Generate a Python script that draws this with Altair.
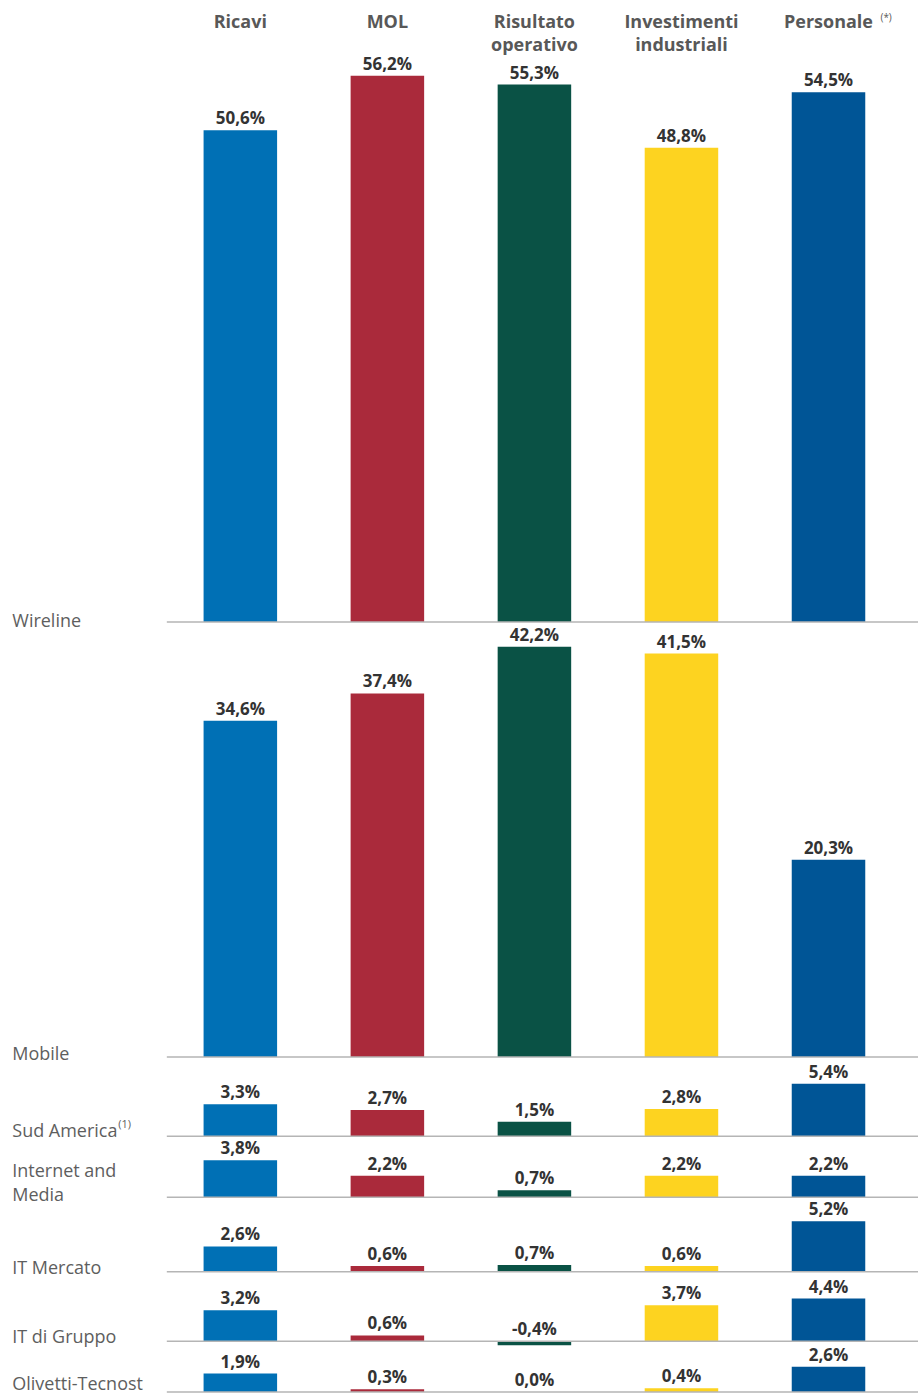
import altair as alt
import pandas as pd

# ---------------- data ----------------
metrics = ["Ricavi", "MOL", "Risultato operativo", "Investimenti industriali", "Personale"]
header_labels = ["Ricavi", "MOL", "Risultato\noperativo", "Investimenti\nindustriali", "Personale"]
colors = ["#0070b5", "#aa2a3b", "#0a5245", "#fdd320", "#005596"]

segments = ["Wireline", "Mobile", "Sud America", "Internet and\nMedia",
            "IT Mercato", "IT di Gruppo", "Olivetti-Tecnost"]

wireline = [50.6, 56.2, 55.3, 48.8, 54.5]
mobile = [34.6, 37.4, 42.2, 41.5, 20.3]
sud_america = [3.3, 2.7, 1.5, 2.8, 5.4]
internet_media = [3.8, 2.2, 0.7, 2.2, 2.2]
it_mercato = [2.6, 0.6, 0.7, 0.6, 5.2]
it_gruppo = [3.2, 0.6, -0.4, 3.7, 4.4]
olivetti = [1.9, 0.3, 0.0, 0.4, 2.6]

series = [wireline, mobile, sud_america, internet_media, it_mercato, it_gruppo, olivetti]

# ---------------- layout ----------------
K = 9.73  # pixels per percentage point
row_domains = [(0, 58.27), (0, 44.74), (0, 8.09), (0, 6.24), (0, 7.64), (-0.5, 7.09), (-0.3, 4.71)]
row_label_dy = [5, 3, 1, 4, 2, 2, -2]
LINE_H = 24
W = 752
HEADER_H = 55
LABEL_X = -154.7
FONT = "Open Sans"

xscale = alt.Scale(domain=metrics, range=[0, 736], paddingInner=0.5, paddingOuter=0.25)
cscale = alt.Scale(domain=metrics, range=colors)


def fmt(v):
    return f"{v:.1f}%".replace(".", ",")


def make_row(name, values, lo, hi, ldy, sup=None):
    df = pd.DataFrame({
        "metric": metrics,
        "value": values,
        "label": [fmt(v) for v in values],
        "label_y": [max(v, 0) for v in values],
    })
    ysc = alt.Scale(domain=[lo, hi], nice=False, zero=False)
    x = alt.X("metric:N", scale=xscale, axis=None, sort=metrics)
    base = alt.Chart(df)
    bars = base.mark_bar().encode(
        x=x,
        y=alt.Y("value:Q", scale=ysc, axis=None),
        y2=alt.datum(0),
        color=alt.Color("metric:N", scale=cscale, legend=None),
    )
    labels = base.mark_text(
        baseline="alphabetic", dy=-6, fontWeight="bold", fontSize=17,
        color="#333333", font=FONT,
    ).encode(
        x=x,
        y=alt.Y("label_y:Q", scale=ysc, axis=None),
        text="label:N",
    )
    zdf = pd.DataFrame({"value": [0], "name": [name]})
    zbase = alt.Chart(zdf)
    rule = zbase.mark_rule(color="#b5b5b5", strokeWidth=1.5).encode(
        y=alt.Y("value:Q", scale=ysc, axis=None),
        x=alt.value(0),
        x2=alt.value(W),
    )
    n_lines = name.count("\n") + 1
    rlabel = zbase.mark_text(
        align="left", baseline="alphabetic", dy=ldy - (n_lines - 1) * LINE_H,
        lineBreak="\n", lineHeight=LINE_H,
        fontSize=18, color="#5e5e5e", font=FONT,
    ).encode(
        x=alt.value(LABEL_X),
        y=alt.Y("value:Q", scale=ysc, axis=None),
        text="name:N",
    )
    layers = [bars, labels, rule, rlabel]
    if sup:
        sdf = pd.DataFrame({"value": [0], "sup": [sup]})
        layers.append(
            alt.Chart(sdf).mark_text(
                align="left", baseline="alphabetic", dy=ldy - 9, fontSize=11,
                color="#5e5e5e", font=FONT,
            ).encode(
                x=alt.value(118 - 166.7),
                y=alt.Y("value:Q", scale=ysc, axis=None),
                text="sup:N",
            )
        )
    return alt.layer(*layers).properties(width=W, height=(hi - lo) * K)


# header
hdf = pd.DataFrame({"metric": metrics, "hlabel": header_labels})
header = alt.Chart(hdf).mark_text(
    baseline="alphabetic", lineBreak="\n", lineHeight=23, fontSize=18,
    fontWeight="bold", color="#585858", font=FONT,
).encode(
    x=alt.X("metric:N", scale=xscale, axis=None, sort=metrics),
    y=alt.value(27),
    text="hlabel:N",
)
sup_df = pd.DataFrame({"metric": ["Personale"], "sup": ["(*)"]})
header_sup = alt.Chart(sup_df).mark_text(
    align="left", baseline="alphabetic", dx=52, fontSize=10,
    color="#585858", font=FONT,
).encode(
    x=alt.X("metric:N", scale=xscale, axis=None, sort=metrics),
    y=alt.value(20),
    text="sup:N",
)
header_chart = alt.layer(header, header_sup).properties(width=W, height=HEADER_H)

rows = []
for name, vals, (lo, hi), ldy in zip(segments, series, row_domains, row_label_dy):
    rows.append(make_row(name, vals, lo, hi, ldy, sup="(1)" if name == "Sud America" else None))

chart = alt.vconcat(header_chart, *rows, spacing=0, bounds="flush").properties(
    padding={"left": 12, "top": 0, "right": 0, "bottom": 0},
).configure_view(strokeWidth=0).resolve_scale(y="independent")

chart.save("out.html", embed_options={"renderer": "svg", "actions": False})
